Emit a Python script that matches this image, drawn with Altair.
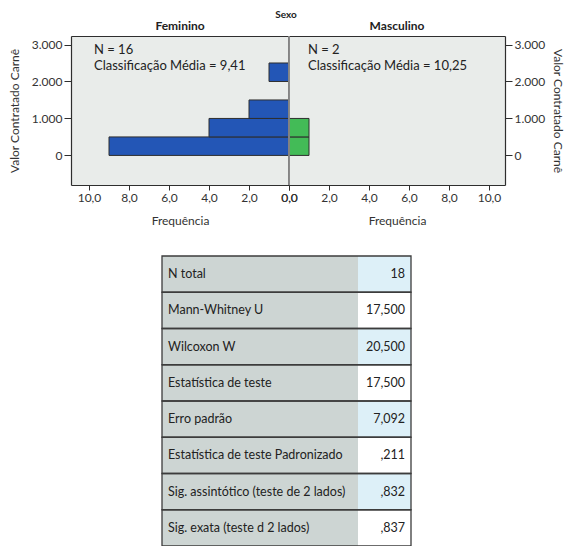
import altair as alt
import pandas as pd

# Histogram of "Valor Contratado Carnê" by sex (bin start, bins of 500)
bin_start = [0, 500, 1000, 1500, 2000]
bin_width = 500
freq_fem = [9, 4, 2, 0, 1]
freq_masc = [1, 1, 0, 0, 0]

group_names = ["Feminino", "Masculino"]
group_n = [16, 2]
group_rank = ["9,41", "10,25"]

# test summary table
stat_labels = [
    "N total",
    "Mann-Whitney U",
    "Wilcoxon W",
    "Estatística de teste",
    "Erro padrão",
    "Estatística de teste Padronizado",
    "Sig. assintótico (teste de 2 lados)",
    "Sig. exata (teste d 2 lados)",
]
stat_values = ["18", "17,500", "20,500", "17,500", "7,092", ",211", ",832", ",837"]

FONT = "Lato"
FRAME = "#2e2e2e"
x_ticks = [0, 2, 4, 6, 8, 10]
y_ticks = [0, 1000, 2000, 3000]
x_label = "replace(format(datum.value, '.1f'), '.', ',')"
y_label = "replace(format(datum.value, ','), ',', '.')"


def panel(idx, freqs, color, side):
    df = pd.DataFrame({"start": bin_start, "freq": freqs})
    df = df[df["freq"] > 0]
    left = side == "left"
    xscale = alt.Scale(domain=[0, 10.9] if left else [0, 10.8], reverse=left, nice=False, zero=False)
    yscale = alt.Scale(domain=[-800, 3230], nice=False, zero=False)
    yaxis = alt.Axis(orient=side, values=y_ticks, labelExpr=y_label, tickSize=7,
                     title="Valor Contratado Carnê", titlePadding=10 if left else 6)
    base = alt.Chart(df)
    bars = base.mark_rect(color=color, stroke=FRAME, strokeWidth=1).encode(
        x=alt.X("freq:Q", scale=xscale,
                axis=alt.Axis(values=x_ticks, labelExpr=x_label, title="Frequência",
                              tickSize=5, labelFlush=False, titlePadding=12)),
        x2=alt.datum(0),
        y=alt.Y("start:Q", scale=yscale, axis=yaxis),
        y2="end:Q",
    ).transform_calculate(end=f"datum.start + {bin_width}")
    # zero line, also carrying a label-free top axis that closes the frame
    zero = base.mark_rule(color="#858585", strokeWidth=1.5).encode(
        x=alt.X(datum=0, scale=xscale,
                axis=alt.Axis(orient="top", labels=False, ticks=False, title=None))
    )
    note = alt.Chart(pd.DataFrame({
        "txt": [[f"N = {group_n[idx]}", f"Classificação Média = {group_rank[idx]}"]]
    })).mark_text(align="left", baseline="top", fontSize=13, font=FONT, color="#222",
                  lineHeight=16).encode(
        x=alt.value(23 if left else 19), y=alt.value(8), text="txt"
    )
    return alt.layer(bars, zero, note).resolve_axis(x="independent").properties(
        width=218 if left else 216,
        height=149,
        title=alt.TitleParams(group_names[idx], fontSize=12, fontWeight="bold",
                              font=FONT, offset=2, color="#222"),
        view=alt.ViewBackground(fill="#e9ecea", stroke=None),
    )


fem = panel(0, freq_fem, "#2356b6", "left")
masc = panel(1, freq_masc, "#43bb57", "right")
hist = alt.hconcat(fem, masc, spacing=0, bounds="flush").properties(
    title=alt.TitleParams("Sexo", anchor="middle", fontSize=10, fontWeight="bold",
                          font=FONT, offset=0, color="#222")
)

tdf = pd.DataFrame({"label": stat_labels, "value": stat_values, "row": list(range(len(stat_labels)))})
ty = alt.Y("label:N", sort=stat_labels, axis=None,
           scale=alt.Scale(paddingInner=0, paddingOuter=0))
tbase = alt.Chart(tdf).encode(y=ty)
lab_cell = tbase.mark_rect(fill="#cdd5d3").encode(x=alt.value(91), x2=alt.value(287))
val_cell = tbase.mark_rect().encode(
    x=alt.value(287), x2=alt.value(340),
    fill=alt.condition("datum.row % 2 == 0", alt.value("#ddf0f8"), alt.value("#ffffff")),
)
row_line = tbase.mark_rect(fillOpacity=0, stroke="#3c3c3c", strokeWidth=1.3).encode(
    x=alt.value(91), x2=alt.value(340)
)
lab_txt = tbase.mark_text(align="left", baseline="middle", fontSize=12.5, font=FONT,
                          color="#222").encode(x=alt.value(97), text="label:N")
val_txt = tbase.mark_text(align="right", baseline="middle", fontSize=12.5, font=FONT,
                          color="#222").encode(x=alt.value(334), text="value:N")
table = alt.layer(lab_cell, val_cell, row_line, lab_txt, val_txt).properties(
    width=350, height=290, view=alt.ViewBackground(stroke=None)
)

chart = alt.vconcat(hist, table, spacing=29).properties(
    padding={"left": 0, "top": 2, "right": 6, "bottom": 0}
).configure_view(
    stroke=None
).configure_axis(
    grid=False, labelFont=FONT, titleFont=FONT, labelFontSize=12, titleFontSize=12,
    titleFontWeight="normal", labelColor="#333", titleColor="#333",
    domainColor=FRAME, tickColor=FRAME, domainWidth=1.2,
)

chart.save("out.html", embed_options={"renderer": "svg", "actions": False})
